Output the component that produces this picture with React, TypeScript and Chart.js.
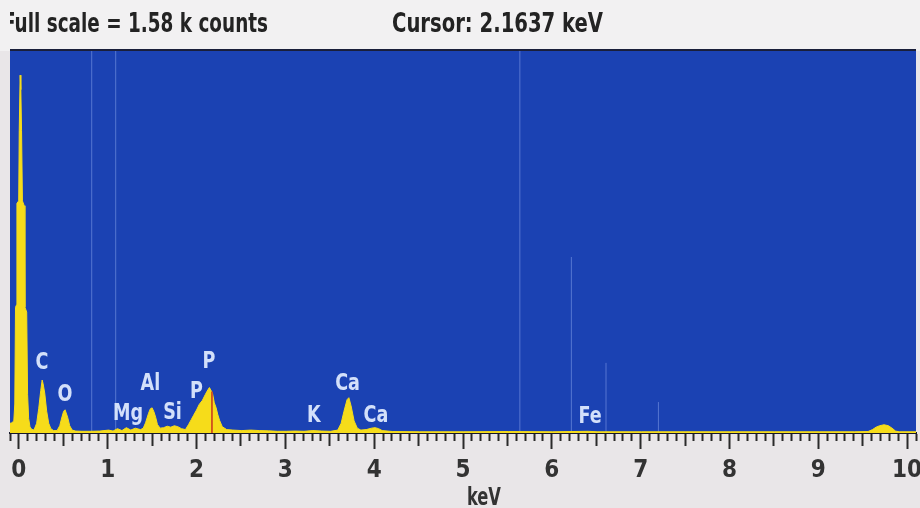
import { useEffect, useRef } from "react";
import { Chart, registerables } from "chart.js";

Chart.register(...registerables);

// ---- data ----
const energies = [
  -0.11, -0.09, -0.067, -0.056, -0.048, -0.036, -0.032, -0.012, -0.006, 0.004, 0.012, 0.02, 0.03, 0.05,
  0.058, 0.078, 0.088, 0.1, 0.115, 0.135,
  0.16, 0.19, 0.213, 0.236, 0.252, 0.262, 0.281, 0.303, 0.326, 0.35, 0.38,
  0.42, 0.45, 0.472, 0.494, 0.51, 0.539, 0.562, 0.59, 0.63, 0.7, 0.8, 0.9, 1.0, 1.05, 1.1, 1.15, 1.2,
  1.25, 1.3, 1.36,
  1.39, 1.416, 1.45, 1.47, 1.49, 1.51, 1.53, 1.55, 1.58,
  1.62, 1.66, 1.7, 1.74, 1.78, 1.82,
  1.865, 1.9, 1.93, 1.955, 1.99, 2.02, 2.056, 2.09, 2.12, 2.135, 2.15, 2.169, 2.19, 2.21, 2.23, 2.25,
  2.28, 2.33, 2.4, 2.5, 2.6, 2.7, 2.8, 2.9, 3.0, 3.1, 3.2, 3.3, 3.4, 3.5,
  3.58, 3.618, 3.65, 3.685, 3.705, 3.73, 3.764, 3.8, 3.84, 3.9, 3.96, 4.0, 4.04, 4.08, 4.2, 4.5, 5.0,
  5.5, 6.0, 6.4, 6.5, 7.0, 7.5, 8.0, 8.5, 9.0, 9.4,
  9.55, 9.6, 9.64, 9.68, 9.73, 9.78, 9.82, 9.86, 9.9, 10.09,
];
const counts = [
  40, 42, 50, 120, 520, 530, 950, 960, 1250, 1480, 1420, 1250, 960, 940,
  520, 500, 160, 60, 25, 15,
  12, 40, 100, 175, 219, 205, 165, 90, 40, 18, 10,
  10, 30, 62, 90, 96, 65, 30, 12, 8, 7, 7, 8, 12, 8, 18, 10, 22,
  12, 20, 14,
  20, 42, 82, 100, 104, 88, 65, 35, 20,
  22, 28, 24, 30, 26, 18,
  14, 35, 55, 72, 95, 118, 135, 160, 180, 188, 178, 165, 125, 105, 75, 52,
  26, 14, 12, 10, 12, 10, 9, 7, 7, 8, 7, 10, 8, 7,
  12, 40, 90, 138, 146, 112, 50, 20, 12, 14, 20, 22, 18, 10, 6, 5, 5,
  6, 5, 7, 5, 5, 5, 5, 5, 5, 5,
  6, 14, 24, 30, 34, 30, 20, 8, 5, 5,
];

const fullScale = 1580;
const xMin = -0.11;
const xMax = 10.09;

const tickLabels = ["0", "1", "2", "3", "4", "5", "6", "7", "8", "9", "10"];

const elementNames = ["C", "O", "Mg", "Al", "Si", "P", "P", "K", "Ca", "Ca", "Fe"];
const elementKeV = [0.25, 0.51, 1.22, 1.47, 1.72, 1.99, 2.13, 3.31, 3.69, 4.01, 6.42];
const elementLabelCounts = [290, 157, 79, 203, 83, 170, 294, 70, 203, 70, 66];

const markerKeV = [0.81, 1.08, 5.63, 6.21, 6.6, 7.19];
const markerTop = [1580, 1580, 1580, 728, 290, 128];

const cursorKeV = 2.1637;
const cursorCounts = 172;

const headerLeft = "Full scale = 1.58 k counts";
const headerRight = "Cursor: 2.1637 keV";
const axisTitle = "keV";

const NARROW = "'Liberation Sans Narrow', 'DejaVu Sans Condensed', 'Roboto', sans-serif";

function fitText(
  ctx: CanvasRenderingContext2D,
  text: string,
  x: number,
  baseline: number,
  width: number,
  font: string,
  color: string
) {
  ctx.save();
  ctx.font = font;
  ctx.fillStyle = color;
  ctx.textAlign = "left";
  ctx.textBaseline = "alphabetic";
  const w = ctx.measureText(text).width || 1;
  ctx.translate(x, baseline);
  ctx.scale(width / w, 1);
  ctx.fillText(text, 0, 0);
  ctx.restore();
}

const decorPlugin = {
  id: "edsDecor",
  beforeDraw(chart: any) {
    const { ctx, chartArea, width, height } = chart;
    ctx.save();
    ctx.fillStyle = "#e9e6e8";
    ctx.fillRect(0, 0, width, height);
    ctx.fillStyle = "#f2f1f2";
    ctx.fillRect(0, 0, width, chartArea.top);
    ctx.fillStyle = "#1b42b3";
    ctx.fillRect(chartArea.left, chartArea.top, chartArea.right - chartArea.left, chartArea.bottom - chartArea.top);
    ctx.fillStyle = "#1a1f3a";
    ctx.fillRect(chartArea.left, chartArea.top - 2, chartArea.right - chartArea.left, 2);
    ctx.restore();
  },
  afterDatasetsDraw(chart: any) {
    const { ctx } = chart;
    const xs = chart.scales.x;
    const ys = chart.scales.y;
    ctx.save();
    ctx.font = `bold 23px ${NARROW}`;
    ctx.fillStyle = "#d3e0fa";
    ctx.textAlign = "center";
    ctx.textBaseline = "middle";
    elementNames.forEach((name, i) => {
      const px = xs.getPixelForValue(elementKeV[i]);
      const py = ys.getPixelForValue(elementLabelCounts[i]);
      ctx.save();
      ctx.translate(px, py);
      ctx.scale(0.85, 1);
      ctx.fillText(name, 0, 0);
      ctx.restore();
    });
    ctx.restore();
  },
  afterDraw(chart: any) {
    const { ctx, chartArea, width } = chart;
    ctx.save();
    ctx.beginPath();
    ctx.rect(chartArea.left, 0, width - chartArea.left, chartArea.top - 3);
    ctx.clip();
    const font = `bold 26px ${NARROW}`;
    fitText(ctx, headerLeft, 3, 32, 265, font, "#232323");
    fitText(ctx, headerRight, 392, 32, 211, font, "#232323");
    ctx.restore();
    const xs = chart.scales.x;
    fitText(ctx, axisTitle, xs.getPixelForValue(5) + 3, 505, 34, `bold 24px ${NARROW}`, "#333333");
  },
};

export default function App() {
  const ref = useRef<HTMLCanvasElement | null>(null);

  useEffect(() => {
    document.body.style.margin = "0";
    if (!ref.current) return;

    const spectrum = energies.map((e, i) => ({ x: e, y: counts[i] }));
    const markerSets = markerKeV.map((k, i) => ({
      type: "line" as const,
      data: [
        { x: k, y: 0 },
        { x: k, y: markerTop[i] },
      ],
      borderColor: "rgba(175,198,255,0.4)",
      borderWidth: 1,
      pointRadius: 0,
      fill: false,
      order: 3,
    }));

    const chart = new Chart(ref.current, {
      type: "line",
      data: {
        datasets: [
          {
            data: spectrum,
            borderColor: "#f6dc1a",
            backgroundColor: "#f6dc1a",
            borderWidth: 1,
            pointRadius: 0,
            fill: "origin",
            tension: 0,
            order: 1,
          },
          ...markerSets,
          {
            data: [
              { x: cursorKeV, y: 0 },
              { x: cursorKeV, y: cursorCounts },
            ],
            borderColor: "#c8321e",
            borderWidth: 1.5,
            pointRadius: 0,
            fill: false,
            order: 0,
          },
        ] as any,
      },
      options: {
        responsive: false,
        animation: false,
        devicePixelRatio: 1,
        layout: { padding: { left: 10, right: 4, top: 51, bottom: 0 } },
        plugins: {
          legend: { display: false },
          tooltip: { enabled: false },
          title: { display: false },
        },
        scales: {
          x: {
            type: "linear",
            min: xMin,
            max: xMax,
            afterFit: (s: any) => {
              s.height = 75;
              s.paddingLeft = 0;
              s.paddingRight = 0;
            },
            border: { display: true, color: "#15172a", width: 2 },
            grid: {
              display: true,
              drawOnChartArea: false,
              drawTicks: true,
              tickLength: 16,
              tickWidth: 2,
              tickColor: "#2a2a2a",
              tickBorderDash: (c: any) => {
                const r = Math.round((c.tick ? c.tick.value : 0) * 10);
                if (r % 10 === 0) return [];
                if (r % 5 === 0) return [12, 40];
                return [7, 40];
              },
            } as any,
            ticks: {
              stepSize: 0.1,
              autoSkip: false,
              includeBounds: false,
              maxRotation: 0,
              minRotation: 0,
              padding: 7,
              color: "#333333",
              font: { family: NARROW, size: 24, weight: "bold" },
              callback: (v: any) => {
                const r = Math.round(Number(v) * 10);
                if (r % 10 !== 0) return "";
                return tickLabels[r / 10] ?? "";
              },
            },
          },
          y: { display: false, min: 0, max: fullScale },
        },
      },
      plugins: [decorPlugin],
    });

    return () => chart.destroy();
  }, []);

  return <canvas ref={ref} width={920} height={508} style={{ display: "block" }} />;
}
